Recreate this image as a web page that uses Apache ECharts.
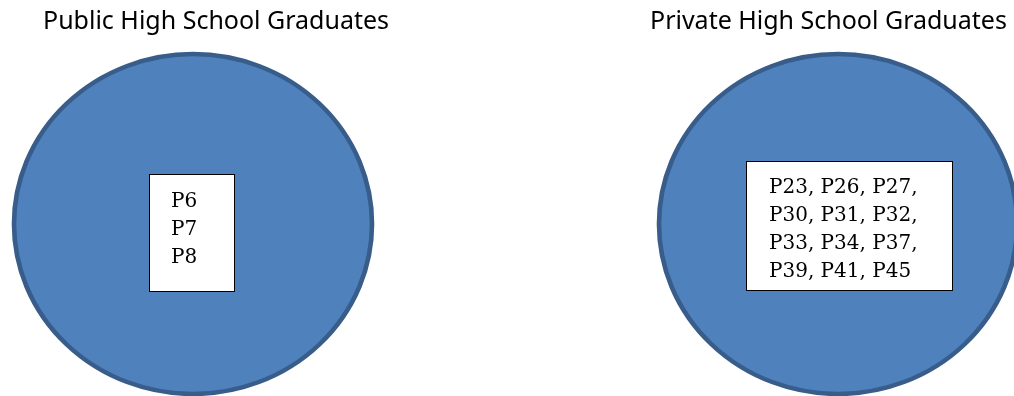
<!DOCTYPE html>
<html>
<head>
<meta charset="utf-8">
<script src="https://cdn.jsdelivr.net/npm/echarts@6/dist/echarts.min.js"></script>
<style>html,body{margin:0;padding:0;background:#fff;}#c{width:1014px;height:396px;}</style>
</head>
<body>
<div id="c"></div>
<script>
// ---- data ----
const groups = ['Public High School Graduates', 'Private High School Graduates'];
const publicMembers = ['P6', 'P7', 'P8'];
const privateMembers = ['P23', 'P26', 'P27', 'P30', 'P31', 'P32', 'P33', 'P34', 'P37', 'P39', 'P41', 'P45'];
const groupMembers = [publicMembers, privateMembers];
const groupX = [0, 1];

// ---- layout / style ----
const itemsPerLine = [1, 3];
const titleLeft = [43, 650];
const boxLayout = [
  { offset: [-43, -49], padding: [13, 0, 0, 21], width: 63, height: 103 },
  { offset: [-91, -62], padding: [12, 0, 0, 22], width: 183, height: 116 }
];

function wrapMembers(list, n) {
  const lines = [];
  for (let i = 0; i < list.length; i += n) {
    const chunk = list.slice(i, i + n);
    const last = i + n >= list.length;
    lines.push(chunk.join(', ') + (last || n === 1 ? '' : ','));
  }
  return lines.join('\n');
}

const chart = echarts.init(document.getElementById('c'), null, { renderer: 'canvas' });
chart.setOption({
  animation: false,
  title: groups.map((g, i) => ({
    text: g,
    left: titleLeft[i],
    top: 7,
    padding: 0,
    textStyle: { fontFamily: 'Noto Sans', fontSize: 25, lineHeight: 30, fontWeight: 'normal', color: '#000' }
  })),
  grid: { left: 193, right: 176, top: 0, bottom: 172 },
  xAxis: { type: 'value', min: 0, max: 1, show: false },
  yAxis: { type: 'value', min: 0, max: 1, show: false },
  series: [{
    type: 'scatter',
    clip: false,
    symbol: 'circle',
    symbolSize: [358, 340],
    itemStyle: { color: '#4F81BD', borderColor: '#385D8A', borderWidth: 4.5, opacity: 1 },
    emphasis: { disabled: true },
    data: groups.map((g, i) => ({
      name: g,
      value: [groupX[i], 0],
      label: {
        show: true,
        position: 'inside',
        align: 'left',
        verticalAlign: 'top',
        offset: boxLayout[i].offset,
        padding: boxLayout[i].padding,
        width: boxLayout[i].width,
        height: boxLayout[i].height,
        backgroundColor: '#fff',
        borderColor: '#000',
        borderWidth: 1,
        color: '#000',
        fontFamily: 'DejaVu Serif',
        fontSize: 20,
        lineHeight: 28,
        formatter: () => wrapMembers(groupMembers[i], itemsPerLine[i])
      }
    }))
  }]
});
</script>
</body>
</html>
